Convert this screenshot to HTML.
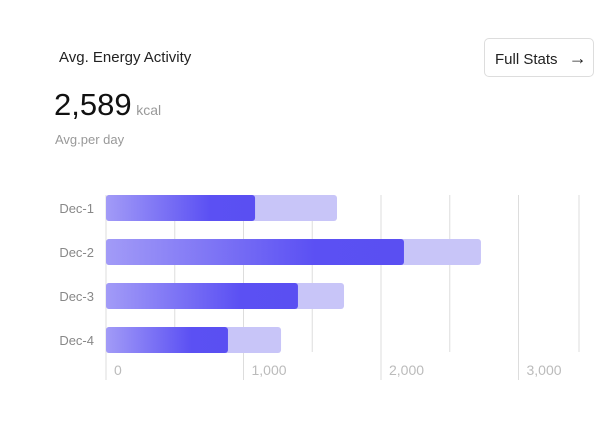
<!DOCTYPE html>
<html><head><meta charset="utf-8"><style>
body{margin:0;width:604px;height:448px;background:#fff;font-family:"Liberation Sans",sans-serif;position:relative;overflow:hidden}
.abs{position:absolute}
</style></head><body>
<div class="abs" style="left:59px;top:49px;font-size:15px;color:#222">Avg. Energy Activity</div>
<div class="abs" style="left:484px;top:38px;width:110px;height:39px;box-sizing:border-box;border:1px solid #ddd;border-radius:5px;font-size:15px;color:#222;line-height:38px;padding-left:10px">Full Stats <span style="margin-left:7px;font-size:18px">→</span></div>
<div class="abs" style="left:54px;top:87px;font-size:31px;color:#111">2,589 <span style="font-size:14px;color:#999;margin-left:-4px">kcal</span></div>
<div class="abs" style="left:55px;top:132px;font-size:13px;color:#999">Avg.per day</div>
<svg class="abs" style="left:0;top:0" width="604" height="448">
<defs><linearGradient id="g" x1="0" x2="1"><stop offset="0" stop-color="#a29bf7"/><stop offset="0.7" stop-color="#5b50f3"/><stop offset="1" stop-color="#5a4ff2"/></linearGradient></defs>
<g id="grid"></g><g id="bars"></g><g id="labels"></g>
</svg>
<script>
const categories=["Dec-1","Dec-2","Dec-3","Dec-4"];
const actual=[1084,2167,1396,887];
const target=[1680,2727,1731,1273];
const ticks=[0,1000,2000,3000];
const tickLabels=["0","1,000","2,000","3,000"];
const gridVals=[0,500,1000,1500,2000,2500,3000,3440];
const x0=106,scale=0.1375;
const X=v=>x0+v*scale;
const Y=i=>195+i*44;
const ns="http://www.w3.org/2000/svg";
function mk(t,a,p){const e=document.createElementNS(ns,t);for(const k in a)e.setAttribute(k,a[k]);document.getElementById(p).appendChild(e);return e;}
gridVals.forEach(v=>{const major=ticks.includes(v);
 const l=mk('line',{x1:X(v),x2:X(v),y1:195,y2:major?380:352,stroke:'#ddd','stroke-width':1},'grid');
 
 });
ticks.forEach((v,i)=>{const t=mk('text',{x:X(v)+8,y:375,'font-size':14,fill:'#bbb'},'labels');t.textContent=tickLabels[i];
 
 });
categories.forEach((c,i)=>{
 const t=mk('text',{x:94,y:Y(i)+18,'font-size':13,fill:'#888','text-anchor':'end'},'labels');t.textContent=c;
 
 
 const b=mk('rect',{x:X(0),y:Y(i),width:X(target[i])-X(0),height:26,rx:3,fill:'#c8c5f8'},'bars');
 
 
 const a=mk('rect',{x:X(0),y:Y(i),width:X(actual[i])-X(0),height:26,rx:3,fill:'url(#g)'},'bars');
 
 
});
</script>
</body></html>
